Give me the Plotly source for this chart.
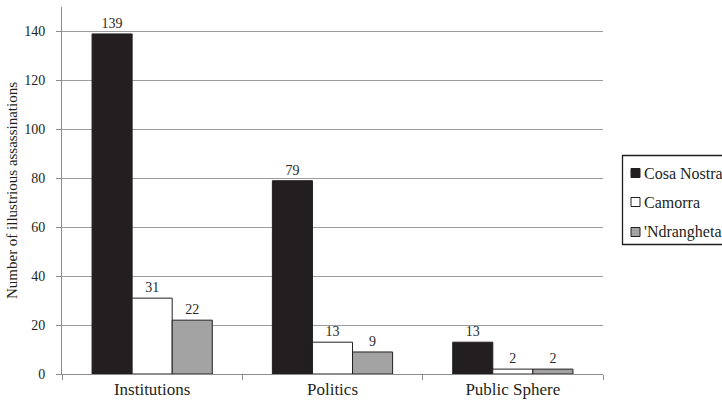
import plotly.graph_objects as go

categories = ["Institutions", "Politics", "Public Sphere"]
series_names = ["Cosa Nostra", "Camorra", "'Ndrangheta"]
cosa_nostra = [139, 79, 13]
camorra = [31, 13, 2]
ndrangheta = [22, 9, 2]
y_ticks = [0, 20, 40, 60, 80, 100, 120, 140]

colors = ["#231f20", "#ffffff", "#a3a3a3"]
values = [cosa_nostra, camorra, ndrangheta]

font_family = "Liberation Serif, Times New Roman, serif"
W, H = 722, 402
ML, MR, MT, MB = 62, 119, 7, 28
PW, PH = W - ML - MR, H - MT - MB


def px_x(px):
    return (px - ML) / PW


def px_y(py):
    return 1 - (py - MT) / PH


fig = go.Figure()
for name, vals, col in zip(series_names, values, colors):
    fig.add_trace(go.Bar(
        x=categories, y=vals, name=name,
        marker=dict(color=col, line=dict(color="#231f20", width=1)),
        text=[str(v) for v in vals], textposition="outside",
        textfont=dict(family=font_family, size=14, color="#2a2a2a"),
        cliponaxis=False, showlegend=False,
    ))

# Legend drawn as a box with swatches and labels
shapes = [dict(type="rect", xref="paper", yref="paper",
               x0=px_x(622.5), x1=px_x(730), y0=px_y(244.5), y1=px_y(155.5),
               line=dict(color="#231f20", width=1.3), fillcolor="white")]
annotations = []
row_y = [173, 202, 232]
for name, col, ry in zip(series_names, colors, row_y):
    shapes.append(dict(type="rect", xref="paper", yref="paper",
                       x0=px_x(631), x1=px_x(640), y0=px_y(ry + 4.5), y1=px_y(ry - 4.5),
                       line=dict(color="#231f20", width=1), fillcolor=col))
    annotations.append(dict(xref="paper", yref="paper", x=px_x(642), y=px_y(ry),
                            xanchor="left", yanchor="middle", showarrow=False,
                            text=name, font=dict(family=font_family, size=16, color="#231f20")))

fig.update_layout(
    width=W, height=H,
    margin=dict(l=ML, r=MR, t=MT, b=MB, autoexpand=False),
    paper_bgcolor="white", plot_bgcolor="white",
    barmode="group", bargap=1/3, bargroupgap=0,
    font=dict(family=font_family, size=13, color="#231f20"),
    showlegend=False,
    shapes=shapes, annotations=annotations,
)
fig.update_xaxes(
    automargin=False,
    showline=True, linecolor="#8c8c8c", linewidth=1,
    ticks="outside", tickson="boundaries", ticklen=5, tickcolor="#8c8c8c",
    tickfont=dict(family=font_family, size=17, color="#231f20"),
    showgrid=False,
)
fig.update_yaxes(
    automargin=False,
    range=[0, 150], tickvals=y_ticks,
    showline=True, linecolor="#8c8c8c", linewidth=1,
    ticks="outside", ticklen=5, tickcolor="#8c8c8c",
    ticklabelstandoff=8,
    showgrid=True, gridcolor="#9c9c9c", gridwidth=1,
    zeroline=False,
    tickfont=dict(family=font_family, size=14, color="#231f20"),
    title=dict(text="Number of illustrious assassinations",
               font=dict(family=font_family, size=15, color="#231f20"), standoff=2),
)

fig.write_html("out.html")
